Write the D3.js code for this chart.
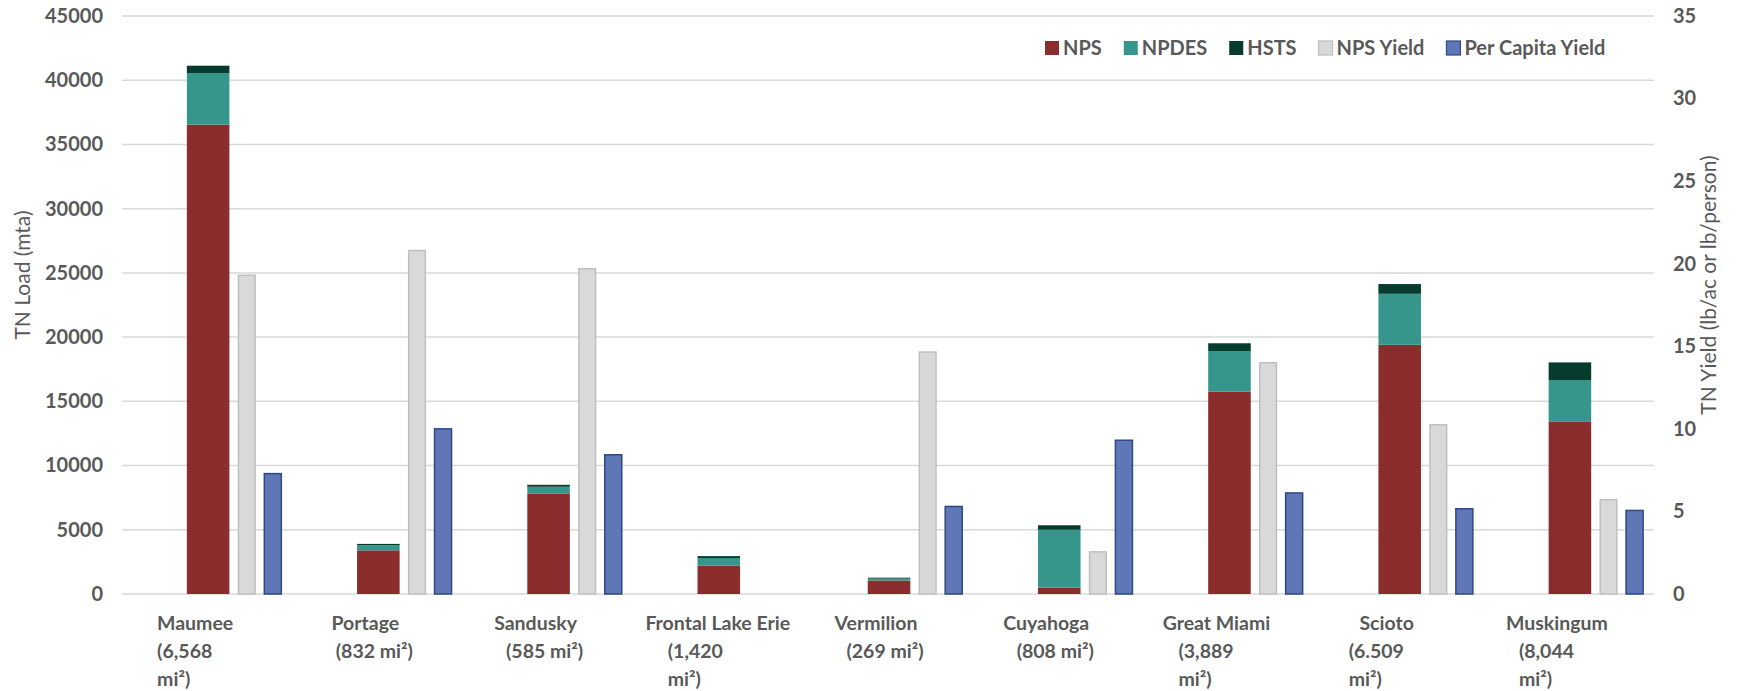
<!DOCTYPE html>
<html lang="en">
<head>
  <meta charset="UTF-8">
  <title>TN Load by Basin</title>
  <script src="https://d3js.org/d3.v7.min.js"></script>
  <style>
    body { margin: 0; background: #fff; }
    text { font-family: Lato, "Open Sans", sans-serif; fill: #595959; }
  </style>
</head>
<body>
  <svg id="chart" width="1745" height="691"></svg>
  <script>
    // basins + wrapped area labels
    const basins = ["Maumee", "Portage", "Sandusky", "Frontal Lake Erie", "Vermilion",
      "Cuyahoga", "Great Miami", "Scioto", "Muskingum"];
    const areaLines = [["(6,568", "mi²)"], ["(832 mi²)"], ["(585 mi²)"], ["(1,420", "mi²)"],
      ["(269 mi²)"], ["(808 mi²)"], ["(3,889", "mi²)"], ["(6.509", "mi²)"], ["(8,044", "mi²)"]];

    // loads (mta), left axis
    const npsLoad = [36540, 3400, 7830, 2200, 1050, 500, 15760, 19400, 13400];
    const npdesLoad = [4020, 400, 520, 600, 150, 4500, 3160, 3970, 3230];
    const hstsLoad = [570, 100, 150, 150, 70, 350, 600, 760, 1400];

    // yields, right axis
    const npsYield = [19.3, 20.8, 19.7, 0, 14.65, 2.55, 14.0, 10.25, 5.71];
    const perCapitaYield = [7.29, 10.0, 8.43, 0, 5.3, 9.31, 6.12, 5.16, 5.06];

    const leftTicks = [0, 5000, 10000, 15000, 20000, 25000, 30000, 35000, 40000, 45000];
    const rightTicks = [0, 5, 10, 15, 20, 25, 30, 35];

    const legendNames = ["NPS", "NPDES", "HSTS", "NPS Yield", "Per Capita Yield"];
    const colors = { NPS: "#8B2C2D", NPDES: "#36968C", HSTS: "#053C2E", "NPS Yield": "#D9D9D9", "Per Capita Yield": "#5F77B6" };
    const strokes = { NPS: "none", NPDES: "none", HSTS: "none", "NPS Yield": "#BFBFBF", "Per Capita Yield": "#2E4A7E" };

    const svg = d3.select("#chart");
    const margin = { top: 16, right: 91, bottom: 97, left: 122 };
    const x0 = margin.left, x1 = 1745 - margin.right;
    const yTop = margin.top, yBot = 691 - margin.bottom;

    const x = d3.scaleBand().domain(basins).range([x0, x1]).padding(0);
    const yL = d3.scaleLinear().domain([0, 45000]).range([yBot, yTop]);
    const yR = d3.scaleLinear().domain([0, 35]).range([yBot, yTop]);
    const bw = x.bandwidth();

    // gridlines
    svg.append("g").selectAll("line").data(leftTicks).join("line")
      .attr("x1", x0).attr("x2", x1)
      .attr("y1", d => yL(d)).attr("y2", d => yL(d))
      .attr("stroke", "#D9D9D9").attr("stroke-width", 1.5);

    // left axis
    const axL = svg.append("g").attr("transform", `translate(${x0 - 19},0)`)
      .call(d3.axisLeft(yL).tickValues(leftTicks).tickSize(0).tickPadding(0).tickFormat(d3.format("d")));
    axL.select(".domain").remove();
    axL.selectAll("text").style("font-size", "20px").style("font-weight", "bold").attr("fill", "#595959");

    // right axis
    const axR = svg.append("g").attr("transform", `translate(${x1 + 19},0)`)
      .call(d3.axisRight(yR).tickValues(rightTicks).tickSize(0).tickPadding(0));
    axR.select(".domain").remove();
    axR.selectAll("text").style("font-size", "20px").style("font-weight", "bold").attr("fill", "#595959");

    // stacked loads
    const rows = basins.map((b, i) => ({ basin: b, NPS: npsLoad[i], NPDES: npdesLoad[i], HSTS: hstsLoad[i] }));
    const stack = d3.stack().keys(["NPS", "NPDES", "HSTS"])(rows);
    svg.append("g").selectAll("g").data(stack).join("g")
      .attr("fill", d => colors[d.key])
      .selectAll("rect").data(d => d).join("rect")
      .attr("x", d => x(d.data.basin) + bw * 0.381)
      .attr("width", bw * 0.25)
      .attr("y", d => yL(d[1]))
      .attr("height", d => yL(d[0]) - yL(d[1]));

    // yield bars
    const yieldSeries = [
      { key: "NPS Yield", vals: npsYield, off: 0.684, w: 0.098 },
      { key: "Per Capita Yield", vals: perCapitaYield, off: 0.836, w: 0.1 }
    ];
    yieldSeries.forEach(s => {
      svg.append("g").selectAll("rect").data(s.vals.map((v, i) => ({ v, b: basins[i] })).filter(d => d.v > 0))
        .join("rect")
        .attr("x", d => x(d.b) + bw * s.off)
        .attr("width", bw * s.w)
        .attr("y", d => yR(d.v))
        .attr("height", d => yR(0) - yR(d.v))
        .attr("fill", colors[s.key])
        .attr("stroke", strokes[s.key]).attr("stroke-width", 1.5);
    });

    // category labels
    const lab = svg.append("g").style("font-size", "19.5px").style("font-weight", "bold");
    basins.forEach((b, i) => {
      const cx = x(b) + bw / 2;
      const lines = areaLines[i];
      const shift = b.length > 12 ? 0 : -12;
      lab.append("text").attr("x", cx + shift).attr("y", 630).attr("text-anchor", "middle").text(b);
      lines.forEach((t, j) => {
        const t1 = lab.append("text").attr("y", 658 + j * 28).text(t);
        if (lines.length > 1) t1.attr("x", cx - 50);
        else t1.attr("x", cx - 3).attr("text-anchor", "middle");
      });
    });

    // axis titles
    svg.append("text").attr("transform", `translate(30,${(yTop + yBot) / 2 - 30}) rotate(-90)`)
      .attr("text-anchor", "middle").style("font-size", "21px").text("TN Load (mta)");
    svg.append("text").attr("transform", `translate(1716,${(yTop + yBot) / 2 - 20}) rotate(-90)`)
      .attr("text-anchor", "middle").style("font-size", "21px").text("TN Yield (lb/ac or lb/person)");

    // legend
    const leg = svg.append("g");
    let lx = 1045;
    legendNames.forEach(n => {
      leg.append("rect").attr("x", lx).attr("y", 41).attr("width", 14).attr("height", 14)
        .attr("fill", colors[n]).attr("stroke", strokes[n] === "none" ? "none" : strokes[n]).attr("stroke-width", 1.2);
      const t = leg.append("text").attr("x", lx + 18).attr("y", 55)
        .style("font-size", "20px").style("font-weight", "bold").text(n);
      lx += 18 + t.node().getComputedTextLength() + 22;
    });
  </script>
</body>
</html>
